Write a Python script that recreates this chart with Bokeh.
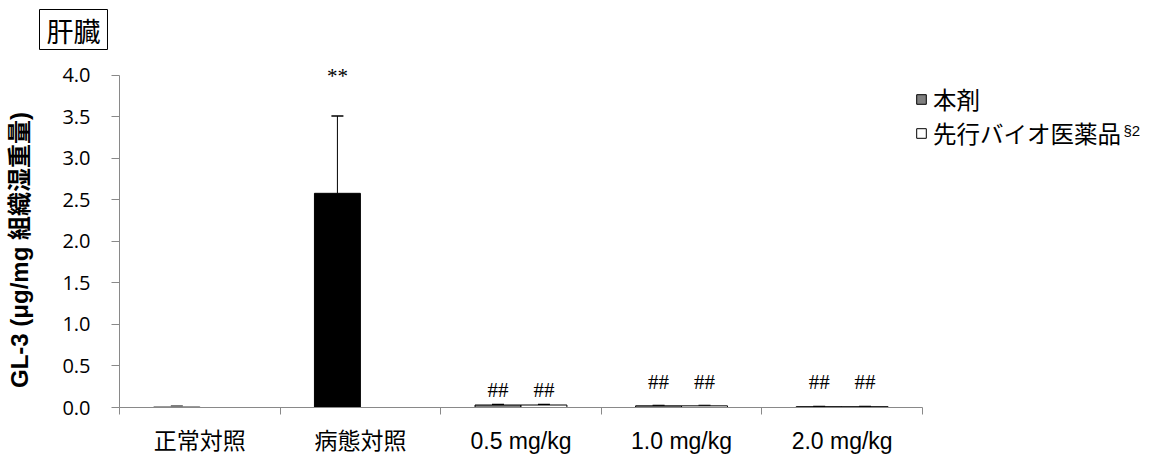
from bokeh.plotting import figure
from bokeh.models import (FixedTicker, Range1d, Label, LabelSet, Legend, LegendItem,
                          Whisker, ColumnDataSource, TeeHead, Title)
from bokeh.embed import file_html
from bokeh.resources import INLINE

# ---------------- data ----------------
categories = ["正常対照", "病態対照", "0.5 mg/kg", "1.0 mg/kg", "2.0 mg/kg"]

control_idx = [0, 1]
control_values = [0.01, 2.58]
control_errors = [0.004, 0.93]
control_colors = ["#8c8c8c", "#000000"]

dose_idx = [2, 3, 4]
honzai_values = [0.03, 0.02, 0.01]   # 本剤
honzai_errors = [0.005, 0.003, 0.002]
senko_values = [0.03, 0.02, 0.01]    # 先行バイオ医薬品
senko_errors = [0.005, 0.003, 0.002]

star_text = ["", "**"]
star_y = [0.0, 3.91]
hash_honzai = ["##", "##", "##"]
hash_senko = ["##", "##", "##"]
hash_y = [0.13, 0.22, 0.22]

y_ticks = [0.0, 0.5, 1.0, 1.5, 2.0, 2.5, 3.0, 3.5, 4.0]

# ---------------- styling ----------------
BAR_W = 0.286
OFF = 0.143
AXIS_COLOR = "#898989"
LAT_CJK = "Liberation Sans, Noto Sans CJK JP"

p = figure(width=1149, height=456, output_backend="svg", toolbar_location=None,
           x_range=Range1d(0, 6.414), y_range=Range1d(0, 4.228),
           min_border_left=119, min_border_right=0, min_border_top=56, min_border_bottom=48)
p.outline_line_color = None
p.grid.grid_line_color = None
p.background_fill_color = "white"
p.border_fill_color = "white"


def add_whisker(xs, vals, errs):
    src = ColumnDataSource(dict(base=xs, lower=vals, upper=[v + e for v, e in zip(vals, errs)]))
    p.add_layout(Whisker(base="base", lower="lower", upper="upper", source=src,
                         line_color="black", line_width=1,
                         upper_head=TeeHead(size=12, line_color="black", line_width=1.5),
                         lower_head=None))


# control bars
cx = [i + 0.5 - OFF for i in control_idx]
src_c = ColumnDataSource(dict(x=cx, top=control_values, color=control_colors,
                              star=star_text, star_y=star_y))
p.vbar(x="x", top="top", width=BAR_W, source=src_c, fill_color="color", line_color="color", line_width=1)
add_whisker(cx, control_values, control_errors)

# dose bars
hx = [i + 0.5 - OFF for i in dose_idx]
sx = [i + 0.5 + OFF for i in dose_idx]
src_h = ColumnDataSource(dict(x=hx, top=honzai_values, lab=hash_honzai, ly=hash_y))
src_s = ColumnDataSource(dict(x=sx, top=senko_values, lab=hash_senko, ly=hash_y))
r_h = p.vbar(x="x", top="top", width=BAR_W, source=src_h, fill_color="#808080", line_color="#000000", line_width=1)
r_s = p.vbar(x="x", top="top", width=BAR_W, source=src_s, fill_color="#ffffff", line_color="#000000", line_width=1)
add_whisker(hx, honzai_values, honzai_errors)
add_whisker(sx, senko_values, senko_errors)

# significance marks
for src, col, ycol in [(src_c, "star", "star_y"), (src_h, "lab", "ly"), (src_s, "lab", "ly")]:
    p.add_layout(LabelSet(x="x", y=ycol, text=col, source=src, text_align="center",
                          text_baseline="alphabetic", text_font="Liberation Sans",
                          text_font_size="21px", text_color="black"))

# y axis
p.yaxis.bounds = (y_ticks[0], y_ticks[-1])
p.yaxis.ticker = FixedTicker(ticks=y_ticks)
p.yaxis.major_label_overrides = {t: f"{t:.1f}" for t in y_ticks}
p.yaxis.axis_line_color = AXIS_COLOR
p.yaxis.major_tick_line_color = AXIS_COLOR
p.yaxis.major_tick_out = 8
p.yaxis.major_tick_in = 0
p.yaxis.minor_tick_line_color = None
p.yaxis.major_label_text_font = "Open Sans"
p.yaxis.major_label_text_font_size = "20px"
p.yaxis.major_label_text_color = "black"
p.yaxis.major_label_standoff = 21
p.yaxis.axis_label = "GL-3 (μg/mg 組織湿重量)\u3000\u2002"
p.yaxis.axis_label_text_font = LAT_CJK
p.yaxis.axis_label_text_font_style = "bold"
p.yaxis.axis_label_text_font_size = "24px"
p.yaxis.axis_label_text_color = "black"
p.yaxis.axis_label_standoff = 26

# x axis
centers = [i + 0.5 for i in range(len(categories))]
p.xaxis.bounds = (0, len(categories))
p.xaxis.ticker = FixedTicker(ticks=centers, minor_ticks=list(range(len(categories) + 1)))
p.xaxis.major_label_overrides = {c: lab for c, lab in zip(centers, categories)}
p.xaxis.axis_line_color = AXIS_COLOR
p.xaxis.major_tick_line_color = None
p.xaxis.major_tick_out = 0
p.xaxis.major_tick_in = 0
p.xaxis.minor_tick_line_color = AXIS_COLOR
p.xaxis.minor_tick_out = 7
p.xaxis.minor_tick_in = 0
p.xaxis.major_label_text_font = LAT_CJK
p.xaxis.major_label_text_font_size = "23px"
p.xaxis.major_label_text_color = "black"
p.xaxis.major_label_standoff = 13

# legend
legend = Legend(items=[LegendItem(label="本剤", renderers=[r_h]),
                       LegendItem(label="先行バイオ医薬品", renderers=[r_s])],
                location=(796, 257), orientation="vertical",
                padding=0, margin=0, spacing=0, border_line_color=None,
                background_fill_alpha=0, glyph_width=12, glyph_height=12,
                label_height=33, label_standoff=6,
                label_text_font="Noto Sans CJK JP", label_text_font_size="23.5px",
                label_text_color="black")
p.add_layout(legend)
p.add_layout(Label(x=1004, y=277, x_units="screen", y_units="screen", text="§2",
                   text_font="Liberation Sans", text_font_size="15px",
                   text_baseline="alphabetic", text_color="black"))

# panel title box
p.add_layout(Title(text="肝臓", align="left", offset=-80, standoff=14,
                   text_font="Noto Sans CJK JP", text_font_size="27px",
                   text_font_style="normal", text_color="black",
                   border_line_color="black", border_line_width=1,
                   background_fill_color="white",
                   padding=dict(left=7, right=7, top=1, bottom=0)), "above")

open("out.html", "w").write(file_html(p, INLINE))
